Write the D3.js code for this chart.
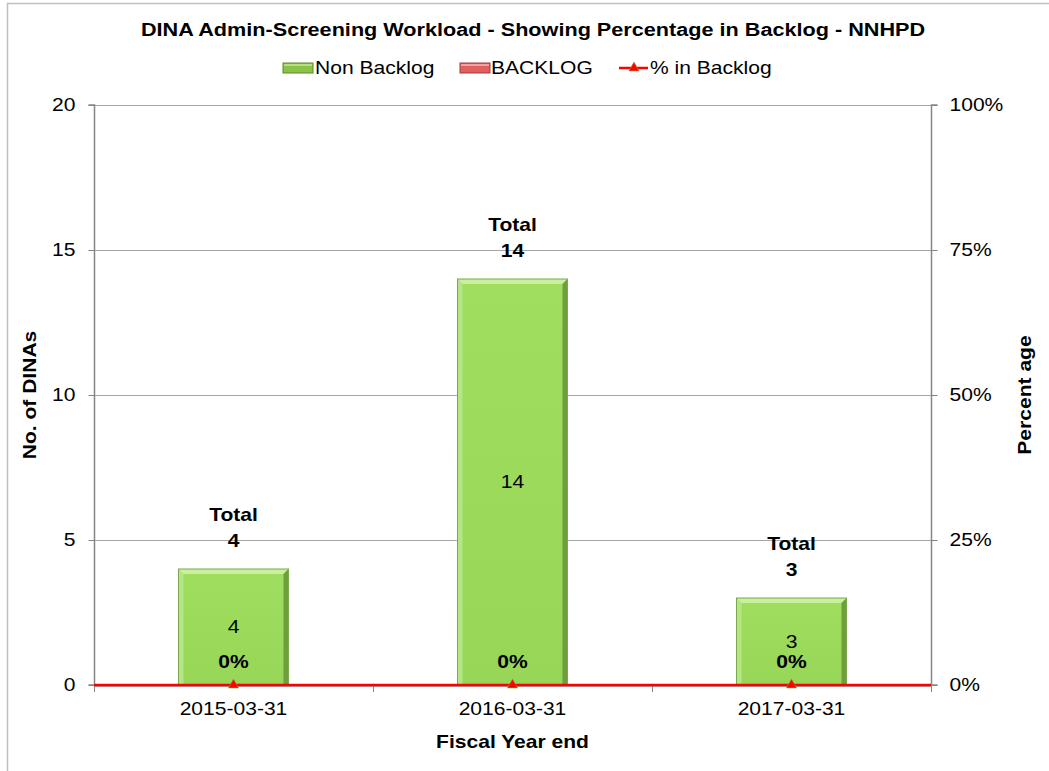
<!DOCTYPE html>
<html><head><meta charset="utf-8">
<script src="https://cdn.jsdelivr.net/npm/d3@7"></script>
<style>body{margin:0;background:#fff;} svg{display:block;font-family:"Liberation Sans",Arial,sans-serif;}</style>
</head><body>
<script>
const categories = ["2015-03-31","2016-03-31","2017-03-31"];
const nonBacklog = [4,14,3];
const backlog = [0,0,0];
const pctBacklog = [0,0,0];
const leftTicks = [0,5,10,15,20];
const rightTicks = [0,0.25,0.5,0.75,1];

const W=1049,H=771, S=1.17, FS=18;
const svg=d3.select("body").append("svg").attr("width",W).attr("height",H);
svg.append("rect").attr("width",W).attr("height",H).attr("fill","#fff");
svg.append("rect").attr("x",7.5).attr("y",3.5).attr("width",1050).attr("height",800)
  .attr("fill","none").attr("stroke","#c0c0c0").attr("stroke-width",1.5);

function txt(g,x,y,str,o={}){
  return g.append("text").attr("transform",`translate(${x},${y}) scale(${o.s||S},1)`)
    .attr("text-anchor",o.anchor||"middle").attr("dy",o.dy||"0.35em")
    .attr("font-size",o.size||FS).attr("font-weight",o.bold?"bold":"normal").attr("fill","#000").text(str);
}

const L=94,R=931,T=105,B=685;
const x=d3.scaleBand().domain(categories).range([L,R]).paddingInner(0).paddingOuter(0);
const y=d3.scaleLinear().domain([0,20]).range([B,T]);
const y2=d3.scaleLinear().domain([0,1]).range([B,T]);

svg.append("g").selectAll("line").data(leftTicks.filter(d=>d>0)).join("line")
  .attr("x1",L).attr("x2",R).attr("y1",d=>y(d)+0.5).attr("y2",d=>y(d)+0.5)
  .attr("stroke","#a6a6a6").attr("stroke-width",1);

const gl=svg.append("g").attr("transform",`translate(${L+0.5},0)`)
  .call(d3.axisLeft(y).tickValues(leftTicks).tickSize(6).tickPadding(13));
const gr=svg.append("g").attr("transform",`translate(${R+0.5},0)`)
  .call(d3.axisRight(y2).tickValues(rightTicks).tickFormat(d3.format(".0%")).tickSize(6).tickPadding(12));
const bounds=[L,L+x.bandwidth(),L+2*x.bandwidth(),R];
const gb=svg.append("g").attr("transform",`translate(0,${B+0.5})`)
  .call(d3.axisBottom(x).tickSize(0).tickPadding(17));
svg.append("g").selectAll("line").data(bounds).join("line")
  .attr("x1",d=>d+0.5).attr("x2",d=>d+0.5).attr("y1",B).attr("y2",B+7).attr("stroke","#868686");
[gl,gr,gb].forEach(g=>{
  g.selectAll(".domain").attr("stroke","#868686").attr("stroke-width",1.5);
  g.selectAll(".tick line").attr("stroke","#868686");
  g.selectAll(".tick text").attr("font-size",FS).attr("fill","#000").attr("font-family","Liberation Sans, Arial, sans-serif")
    .attr("x",function(){return (+d3.select(this).attr("x")||0)/S;})
    .attr("transform",`scale(${S},1)`);
});
gr.selectAll(".domain").attr("d",`M6,${T}H0V${B}H6`);
gl.selectAll(".domain").attr("d",`M-6,${T}H0V${B}H-6`);

const bw=110;
const defs=svg.append("defs");
const gg=defs.append("linearGradient").attr("id","gfill").attr("x1",0).attr("x2",0).attr("y1",0).attr("y2",1);
gg.append("stop").attr("offset",0).attr("stop-color","#a0de60");
gg.append("stop").attr("offset",1).attr("stop-color","#97d656");
const data=categories.map((c,i)=>({c,v:nonBacklog[i],b:backlog[i],p:pctBacklog[i]}));
const bars=svg.append("g").selectAll("g").data(data).join("g");
const bx=d=>x(d.c)+x.bandwidth()/2-bw/2;
bars.append("rect").attr("x",bx).attr("y",d=>y(d.v)).attr("width",bw).attr("height",d=>B-y(d.v))
  .attr("fill","url(#gfill)");
const e=5;
bars.append("polygon").attr("points",d=>{const x0=bx(d),y0=y(d.v);return `${x0},${y0} ${x0+bw},${y0} ${x0+bw-e},${y0+e} ${x0+e},${y0+e}`;}).attr("fill","#c8f09e");
bars.append("polygon").attr("points",d=>{const x0=bx(d),y0=y(d.v);return `${x0},${y0} ${x0+e},${y0+e} ${x0+e},${B} ${x0},${B}`;}).attr("fill","#b4e685");
bars.append("polygon").attr("points",d=>{const x0=bx(d),y0=y(d.v);return `${x0+bw},${y0} ${x0+bw},${B} ${x0+bw-e},${B} ${x0+bw-e},${y0+e}`;}).attr("fill","#6f9e3c");
bars.append("rect").attr("x",bx).attr("y",d=>y(d.v)).attr("width",bw).attr("height",d=>B-y(d.v))
  .attr("fill","none").attr("stroke","#7aa84a").attr("stroke-width",1);

bars.each(function(d){
  const g=d3.select(this), cx=x(d.c)+x.bandwidth()/2;
  txt(g,cx,(y(d.v)+B)/2,d.v);
  txt(g,cx,B-23,d3.format(".0%")(d.p),{bold:true});
  txt(g,cx,y(d.v+d.b)-54,"Total",{bold:true});
  txt(g,cx,y(d.v+d.b)-28,d.v+d.b,{bold:true});
});

svg.append("path").datum(pctBacklog).attr("d",d=>`M${L},${y2(d[0])}L${R},${y2(d[d.length-1])}`)
  .attr("stroke","#ff0000").attr("stroke-width",2.5).attr("fill","none");
svg.append("g").selectAll("path").data(pctBacklog).join("path")
  .attr("transform",(d,i)=>`translate(${x(categories[i])+x.bandwidth()/2},${y2(d)})`)
  .attr("d",d3.symbol(d3.symbolTriangle,45)).attr("fill","#ff0000").attr("stroke","#9b9b2a").attr("stroke-width",0.6);

txt(svg,533,30,"DINA Admin-Screening Workload - Showing Percentage in Backlog - NNHPD",{bold:true,size:18.5});

const lg=svg.append("g");
function bevelRect(g,x0,y0,w,h,fill,light,dark){
  g.append("rect").attr("x",x0).attr("y",y0).attr("width",w).attr("height",h).attr("fill",fill).attr("stroke",dark);
  g.append("rect").attr("x",x0+1).attr("y",y0+1).attr("width",w-2).attr("height",2).attr("fill",light);
}
bevelRect(lg,283,63,30,10,"#8bc34a","#b5e080","#5a8a2a");
txt(lg,315,68,"Non Backlog",{anchor:"start"});
bevelRect(lg,460,63,30,10,"#e06060","#f5a0a0","#a03a3a");
txt(lg,491,68,"BACKLOG",{anchor:"start"});
lg.append("line").attr("x1",619).attr("x2",648).attr("y1",68).attr("y2",68).attr("stroke","#ff0000").attr("stroke-width",2.5);
lg.append("path").attr("transform","translate(634,68)").attr("d",d3.symbol(d3.symbolTriangle,45)).attr("fill","#ff0000").attr("stroke","#9b9b2a").attr("stroke-width",0.6);
txt(lg,650,68,"% in Backlog",{anchor:"start"});

svg.append("text").attr("transform",`translate(30,${(T+B)/2}) rotate(-90) scale(${S},1)`).attr("text-anchor","middle").attr("dy","0.35em")
  .attr("font-size",FS).attr("font-weight","bold").text("No. of DINAs");
svg.append("text").attr("transform",`translate(1025,${(T+B)/2}) rotate(-90) scale(${S},1)`).attr("text-anchor","middle").attr("dy","0.35em")
  .attr("font-size",FS).attr("font-weight","bold").text("Percent age");
txt(svg,(L+R)/2,742,"Fiscal Year end",{bold:true});
</script>
</body></html>
